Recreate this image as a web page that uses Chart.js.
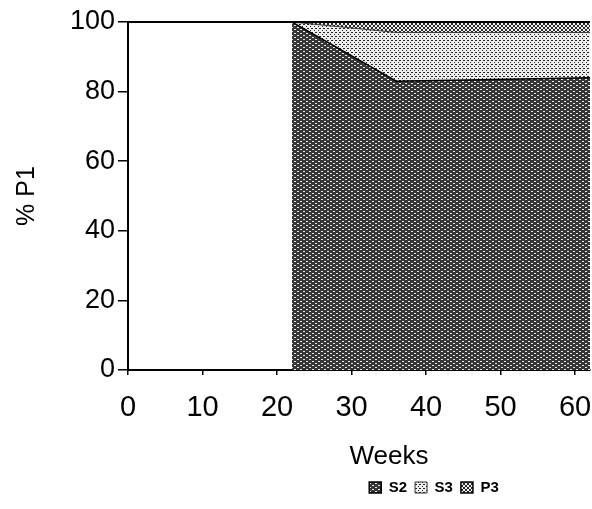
<!DOCTYPE html>
<html>
<head>
<meta charset="utf-8">
<script src="https://cdn.jsdelivr.net/npm/chart.js@4/dist/chart.umd.min.js"></script>
<style>
  html, body { margin: 0; padding: 0; background: #fff; }
  #wrap { width: 592px; height: 509px; }
</style>
</head>
<body>
<div id="wrap"><canvas id="myChart" width="592" height="509"></canvas></div>
<script>
var weeks = [22, 36, 62];
var s2 = [100, 83, 84];
var s3 = [0, 14, 13];
var p3 = [0, 3, 3];
var xTicks = [0, 10, 20, 30, 40, 50, 60];
var seriesNames = ["S2", "S3", "P3"];

var FONT = "'Liberation Sans Narrow', 'Arial Narrow', 'Liberation Sans', sans-serif";

var makePattern = function (w, h, bg, fg, pixels) {
    var c = document.createElement('canvas');
    c.width = w; c.height = h;
    var g = c.getContext('2d');
    g.fillStyle = bg;
    g.fillRect(0, 0, w, h);
    g.fillStyle = fg;
    pixels.forEach(function (p) { g.fillRect(p[0], p[1], p[2] || 1, p[3] || 1); });
    return g.createPattern(c, 'repeat');
};

// dark dashed texture, light dotted, crosshatch
var s2Fill = makePattern(6, 4, '#363636', '#e8e8e8', [[0, 1, 2, 1], [3, 3, 2, 1]]);
var s3Fill = makePattern(4, 4, '#eeeeee', '#222', [[0, 0], [2, 2], [3, 0]]);
var p3Fill = makePattern(4, 4, '#f0f0f0', '#2a2a2a', [[0, 0], [1, 1], [2, 2], [3, 3], [3, 0], [2, 1], [1, 2], [0, 3]]);

var toPoints = function (vals) {
    return weeks.map(function (w, i) { return {x: w, y: vals[i]}; });
};

var topLine = {
    id: 'topLine',
    afterLayout: function (chart) {
        // legend and "Weeks" sit right of centre in the original
        chart.legend.left += 139;
        chart.legend.right += 139;
        var xs = chart.scales.x;
        if (!xs._shifted) {
            var orig = xs.drawTitle;
            xs.drawTitle = function () {
                chart.ctx.save();
                chart.ctx.translate(30, 0);
                orig.apply(this, arguments);
                chart.ctx.restore();
            };
            xs._shifted = true;
        }
    },
    afterDraw: function (chart) {
        var ctx = chart.ctx;
        var a = chart.chartArea;
        var y = chart.scales.y.getPixelForValue(100);
        ctx.save();
        ctx.strokeStyle = '#000';
        ctx.lineWidth = 2;
        ctx.beginPath();
        ctx.moveTo(a.left, y);
        ctx.lineTo(a.right, y);
        ctx.stroke();
        ctx.restore();
    }
};

var data = {
    datasets: [
        {label: seriesNames[0], data: toPoints(s2), backgroundColor: s2Fill, borderColor: '#000', borderWidth: 1.5, fill: 'origin', pointRadius: 0, tension: 0},
        {label: seriesNames[1], data: toPoints(s3), backgroundColor: s3Fill, borderColor: '#333', borderWidth: 1, fill: '-1', pointRadius: 0, tension: 0},
        {label: seriesNames[2], data: toPoints(p3), backgroundColor: p3Fill, borderColor: '#000', borderWidth: 1.5, fill: '-1', pointRadius: 0, tension: 0}
    ]
};

var options = {
    responsive: false,
    animation: false,
    layout: {padding: {top: 22, right: 2, left: 0, bottom: 4}},
    plugins: {
        legend: {
            position: 'bottom',
            align: 'center',
            labels: {
                boxWidth: 12, boxHeight: 11, padding: 8, color: '#000',
                font: {family: FONT, size: 15, weight: 'bold'}
            }
        },
        tooltip: {enabled: false}
    },
    scales: {
        x: {
            type: 'linear', min: 0, max: 62,
            afterBuildTicks: function (scale) {
                scale.ticks = xTicks.map(function (v) { return {value: v}; });
            },
            afterFit: function (scale) {
                scale.paddingLeft = 0;
                scale.paddingRight = 0;
                scale.height = 102;
            },
            border: {color: '#000', width: 2},
            grid: {drawOnChartArea: false, color: '#000', tickLength: 5, lineWidth: 1.5},
            ticks: {color: '#000', padding: 16, maxRotation: 0, font: {family: FONT, size: 29}},
            title: {display: true, text: 'Weeks', color: '#000', padding: {top: 10, bottom: 0}, font: {family: FONT, size: 26}}
        },
        y: {
            stacked: true, min: 0, max: 100,
            afterFit: function (scale) { scale.width = 128; },
            border: {color: '#000', width: 2},
            grid: {drawOnChartArea: false, color: '#000', tickLength: 10, lineWidth: 1.5},
            ticks: {stepSize: 20, color: '#000', padding: 3, font: {family: FONT, size: 27}},
            title: {display: true, text: '% P1', color: '#000', padding: {top: 12, bottom: 0}, font: {family: FONT, size: 25}}
        }
    }
};

var myChart = new Chart(document.getElementById('myChart'), {
    type: 'line',
    data: data,
    options: options,
    plugins: [topLine]
});
</script>
</body>
</html>
